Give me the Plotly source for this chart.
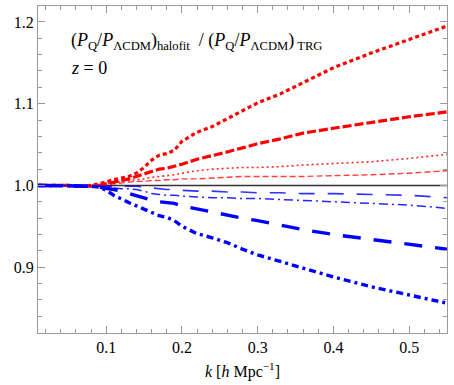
import plotly.graph_objects as go

# wavenumber grid [h/Mpc]
k = [0.01, 0.03, 0.05, 0.07, 0.08, 0.09, 0.10, 0.11, 0.12, 0.13, 0.14,
     0.15, 0.16, 0.17, 0.18, 0.19, 0.20, 0.22, 0.24, 0.26, 0.28, 0.30,
     0.33, 0.36, 0.40, 0.45, 0.50, 0.55]

# red: ratio above 1
red_thick_dot = [1.0, 1.0, 1.0, 0.999, 1.0, 1.002, 1.005, 1.007, 1.009, 1.011, 1.015,
                 1.022, 1.031, 1.037, 1.039, 1.043, 1.054, 1.065, 1.072, 1.082, 1.092, 1.101,
                 1.112, 1.126, 1.144, 1.162, 1.178, 1.195]
red_thick_dash = [1.0, 1.0, 1.0, 0.999, 0.999, 1.0, 1.002, 1.004, 1.006, 1.008, 1.011,
                  1.014, 1.018, 1.020, 1.021, 1.023, 1.026, 1.032, 1.036, 1.041, 1.046, 1.051,
                  1.057, 1.064, 1.070, 1.077, 1.084, 1.090]
red_thin_dot = [1.0, 1.0, 1.0, 1.0, 1.0, 1.0, 1.002, 1.003, 1.005, 1.006, 1.007,
                1.008, 1.010, 1.011, 1.012, 1.013, 1.015, 1.018, 1.020, 1.021, 1.022, 1.022,
                1.023, 1.025, 1.027, 1.029, 1.033, 1.038]
red_thin_dash = [1.0, 1.0, 1.0, 1.0, 1.0, 1.0, 1.001, 1.002, 1.003, 1.004, 1.005,
                 1.005, 1.006, 1.006, 1.007, 1.007, 1.008, 1.008, 1.009, 1.010, 1.011, 1.011,
                 1.011, 1.011, 1.012, 1.013, 1.015, 1.018]

# blue: ratio below 1
blue_thin_long = [1.0, 1.0, 1.0, 1.0, 1.0, 0.999, 0.999, 0.999, 0.999, 0.999, 0.999,
                  0.998, 0.997, 0.996, 0.995, 0.995, 0.994, 0.993, 0.993, 0.992, 0.992, 0.991,
                  0.991, 0.990, 0.990, 0.989, 0.988, 0.985]
blue_thin_dashdot = [1.0, 1.0, 1.0, 1.0, 0.999, 0.999, 0.998, 0.997, 0.996, 0.996, 0.995,
                     0.993, 0.990, 0.989, 0.988, 0.988, 0.987, 0.986, 0.985, 0.985, 0.984, 0.984,
                     0.983, 0.982, 0.980, 0.978, 0.976, 0.972]
blue_thick_long = [1.0, 1.0, 1.0, 1.0, 0.999, 0.998, 0.997, 0.995, 0.993, 0.990, 0.988,
                   0.985, 0.982, 0.980, 0.979, 0.978, 0.975, 0.971, 0.967, 0.963, 0.960, 0.957,
                   0.951, 0.946, 0.940, 0.934, 0.929, 0.922]
blue_thick_dashdot = [1.0, 1.0, 1.0, 1.0, 0.999, 0.998, 0.994, 0.988, 0.983, 0.979, 0.975,
                      0.971, 0.966, 0.963, 0.961, 0.957, 0.950, 0.941, 0.936, 0.930, 0.922, 0.915,
                      0.907, 0.899, 0.888, 0.876, 0.866, 0.856]

RED = '#ff0000'
BLUE = '#0000ff'
FRAME = '#9a9a9a'
SERIF = 'Liberation Serif'

curves = [
    (red_thin_dash, RED, 1.4, '6px,3px', 0.75),
    (red_thin_dot, RED, 1.6, '2px,3px', 0.85),
    (red_thick_dash, RED, 3.2, '9px,3px', 1.0),
    (red_thick_dot, RED, 3.2, '4px,3px', 1.0),
    (blue_thin_long, BLUE, 1.6, '16px,13px', 0.8),
    (blue_thin_dashdot, BLUE, 1.5, '9px,4px,2px,4px', 0.85),
    (blue_thick_long, BLUE, 3.4, '18px,13px', 1.0),
    (blue_thick_dashdot, BLUE, 3.4, '7px,4px,3px,4px', 1.0),
]

data = [go.Scatter(x=[k[0], k[-1]], y=[1.0, 1.0], mode='lines',
                   line=dict(color='#333333', width=1.5),
                   hoverinfo='skip', showlegend=False)]

for values, color, width, dash, opacity in curves:
    data.append(go.Scatter(x=k, y=values, mode='lines',
                           line=dict(color=color, width=width, dash=dash),
                           opacity=opacity, showlegend=False))

axis_common = dict(showgrid=False, zeroline=False,
                   showline=True, linecolor=FRAME, linewidth=1, mirror='ticks',
                   ticks='inside', ticklen=7, tickcolor=FRAME, tickwidth=1,
                   tickfont=dict(family=SERIF, size=16, color='black'),
                   tickformat='.1f')

layout = go.Layout(
    width=454, height=385,
    margin=dict(l=38, r=7, t=6, b=52),
    plot_bgcolor='white', paper_bgcolor='white',
    font=dict(family=SERIF, color='black'),
    xaxis=dict(range=[0.01, 0.55], dtick=0.1, tick0=0.0,
               minor=dict(dtick=0.02, ticks='inside', ticklen=4, tickcolor=FRAME),
               title=dict(text='<i>k</i> [<i>h</i> Mpc<sup>\u22121</sup>]',
                          font=dict(family=SERIF, size=16, color='black'),
                          standoff=10),
               **axis_common),
    yaxis=dict(range=[0.8195, 1.2195], dtick=0.1, tick0=0.0,
               minor=dict(dtick=0.02, ticks='inside', ticklen=4, tickcolor=FRAME),
               **axis_common),
    annotations=[
        dict(xref='paper', yref='paper', x=0.075, y=0.89, xanchor='left', yanchor='middle',
             showarrow=False,
             text='(<i>P</i><sub>Q</sub>/<i>P</i><sub>\u039bCDM</sub>)<sub>halofit</sub>'
                  '  / (<i>P</i><sub>Q</sub>/<i>P</i><sub>\u039bCDM</sub>)<sub> TRG</sub>',
             font=dict(family=SERIF, size=18, color='black')),
        dict(xref='paper', yref='paper', x=0.075, y=0.81, xanchor='left', yanchor='middle',
             showarrow=False, text='<i>z</i> = 0',
             font=dict(family=SERIF, size=18, color='black')),
    ],
)

fig = go.Figure(data=data, layout=layout)
fig.write_html('out.html', config={'displayModeBar': False},
               post_script="document.body.style.margin='0';")
